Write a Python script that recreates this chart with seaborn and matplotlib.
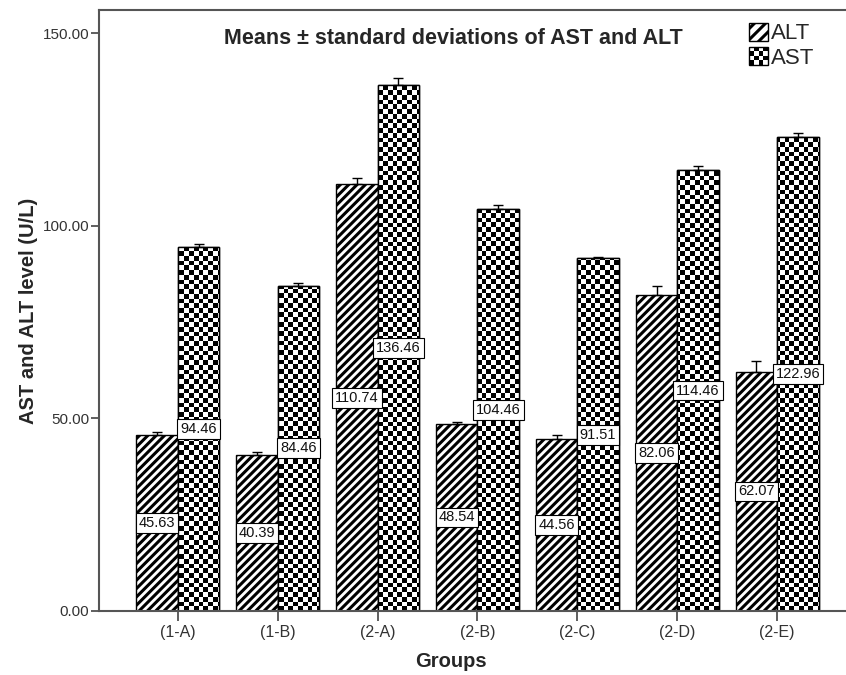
import numpy as np
import pandas as pd
import matplotlib
matplotlib.use("Agg")
import matplotlib.pyplot as plt
from matplotlib.patches import Rectangle
from matplotlib.legend_handler import HandlerPatch
import seaborn as sns

groups = ["(1-A)", "(1-B)", "(2-A)", "(2-B)", "(2-C)", "(2-D)", "(2-E)"]
alt_mean = [45.63, 40.39, 110.74, 48.54, 44.56, 82.06, 62.07]
ast_mean = [94.46, 84.46, 136.46, 104.46, 91.51, 114.46, 122.96]
alt_sd = [0.8, 0.8, 1.6, 0.6, 1.0, 2.2, 2.8]
ast_sd = [0.8, 0.8, 2.0, 0.8, 0.5, 1.0, 1.0]

df = pd.DataFrame({
    "Group": groups * 2,
    "Enzyme": ["ALT"] * len(groups) + ["AST"] * len(groups),
    "Level": alt_mean + ast_mean,
})

sns.set_style("white")
plt.rcParams["font.family"] = ["Liberation Sans", "DejaVu Sans"]
plt.rcParams["hatch.linewidth"] = 2.2
plt.rcParams["hatch.color"] = "black"

fig = plt.figure(figsize=(8.46, 6.75), dpi=100)
ax = fig.add_axes([99 / 846, 64 / 675, 747 / 846, 601 / 675])

sns.barplot(data=df, x="Group", y="Level", hue="Enzyme", order=groups,
            hue_order=["ALT", "AST"], errorbar=None, width=0.83,
            palette=["white", "white"], edgecolor="black", linewidth=1.0,
            legend=False, ax=ax)

xlim = (-0.79, 6.69)
ylim = (0, 156)

# ALT: diagonal stripes
for bar in ax.containers[0]:
    bar.set_hatch("////")
    bar.set_facecolor("white")
    bar.set_edgecolor("black")

# AST: checkerboard, drawn as an image clipped to each bar
cell = 4.7
nx = int(747 / cell)
ny = int(601 / cell)
ii, jj = np.indices((ny, nx))
checker = ((ii + jj) % 2).astype(float)
for bar in ax.containers[1]:
    im = ax.imshow(checker, extent=(xlim[0], xlim[1], ylim[0], ylim[1]),
                   cmap="gray", interpolation="nearest", aspect="auto",
                   zorder=bar.get_zorder() + 0.1)
    im.set_clip_path(bar)
    edge = Rectangle((bar.get_x(), 0), bar.get_width(), bar.get_height(),
                     fill=False, edgecolor="black", linewidth=1.0,
                     zorder=bar.get_zorder() + 0.2)
    ax.add_patch(edge)

# error bars (upper only) and value labels
for cont, means, sds in [(ax.containers[0], alt_mean, alt_sd),
                         (ax.containers[1], ast_mean, ast_sd)]:
    xs = [b.get_x() + b.get_width() / 2 for b in cont]
    ax.errorbar(xs, means, yerr=[np.zeros(len(sds)), sds], fmt="none",
                ecolor="black", elinewidth=1.0, capsize=3.5, capthick=1.0,
                zorder=5)
    for x, m in zip(xs, means):
        ax.text(x, m / 2, f"{m:.2f}", ha="center", va="center", fontsize=10.5,
                color="#111111", zorder=6,
                bbox=dict(boxstyle="square,pad=0.2", fc="white", ec="black",
                          lw=0.8))

ax.set_xlim(*xlim)
ax.set_ylim(*ylim)
ax.set_yticks([0, 50, 100, 150])
ax.set_yticklabels(["0.00", "50.00", "100.00", "150.00"])
ax.tick_params(axis="y", labelsize=11, length=6, width=1.2, direction="out",
               left=True, colors="#444444", labelcolor="#333333", pad=1)
ax.tick_params(axis="x", labelsize=11.5, length=7, width=1.2, direction="out",
               bottom=True, colors="#444444", labelcolor="#333333", pad=3)

for side in ["left", "bottom", "top"]:
    ax.spines[side].set_color("#555555")
    ax.spines[side].set_linewidth(1.5)
ax.spines["right"].set_visible(False)

ax.set_xlabel("Groups", fontsize=14.5, fontweight="bold")
ax.xaxis.set_label_coords(0.471, -0.068)
ax.set_ylabel("AST and ALT level (U/L)", fontsize=14.5, fontweight="bold",
              labelpad=3)
ax.text(0.475, 0.953, "Means \u00b1 standard deviations of AST and ALT",
        transform=ax.transAxes, ha="center", va="center", fontsize=15.5,
        fontweight="bold")


class CheckerHandler(HandlerPatch):
    def create_artists(self, legend, orig_handle, xdescent, ydescent, width,
                       height, fontsize, trans):
        arts = [Rectangle((-xdescent, -ydescent), width, height, fc="white",
                          ec="black", lw=1.0, transform=trans)]
        n = 4
        w = width / n
        h = height / n
        for i in range(n):
            for j in range(n):
                if (i + j) % 2 == 0:
                    arts.append(Rectangle((-xdescent + i * w,
                                           -ydescent + j * h), w, h,
                                          fc="black", ec="none",
                                          transform=trans))
        return arts


alt_handle = Rectangle((0, 0), 1, 1, fc="white", ec="black", hatch="///",
                       lw=1.0)
ast_handle = Rectangle((0, 0), 1, 1, fc="white", ec="black", lw=1.0)
ax.legend([alt_handle, ast_handle], ["ALT", "AST"], loc="upper right",
          bbox_to_anchor=(0.985, 1.012), frameon=False, fontsize=16,
          handlelength=0.85, handleheight=0.85, handletextpad=0.15,
          labelspacing=0.12, handler_map={ast_handle: CheckerHandler()})

fig.savefig("out.png", dpi=100)
